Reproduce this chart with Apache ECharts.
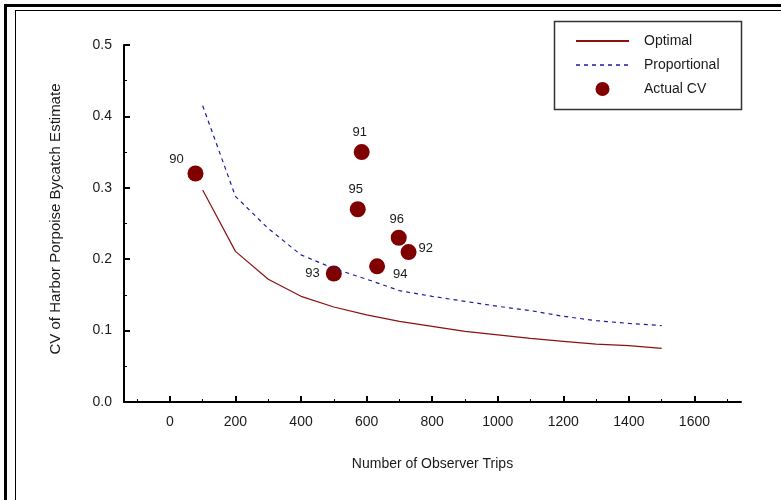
<!DOCTYPE html>
<html>
<head>
<meta charset="utf-8">
<script src="https://cdn.jsdelivr.net/npm/echarts@6/dist/echarts.min.js"></script>
<style>
html,body{margin:0;padding:0;background:#fff;}
#chart{width:781px;height:500px;}
</style>
</head>
<body>
<div id="chart"></div>
<script>
// ---- data ----
var optimalTrips = [100, 200, 300, 400, 500, 600, 700, 800, 900, 1000, 1100, 1200, 1300, 1400, 1500];
var optimalCV    = [0.297, 0.211, 0.172, 0.148, 0.133, 0.122, 0.113, 0.106, 0.099, 0.094, 0.089, 0.085, 0.081, 0.079, 0.075];
var propTrips    = [100, 200, 300, 400, 500, 600, 700, 800, 900, 1000, 1100, 1200, 1300, 1400, 1500];
var propCV       = [0.415, 0.288, 0.243, 0.206, 0.187, 0.172, 0.156, 0.148, 0.141, 0.134, 0.128, 0.120, 0.114, 0.110, 0.107];
var actualYears  = ['90', '91', '92', '93', '94', '95', '96'];
var actualTrips  = [78, 585, 728, 500, 632, 573, 698];
var actualCV     = [0.32, 0.35, 0.21, 0.18, 0.19, 0.27, 0.23];
var xMajorTicks  = [0, 200, 400, 600, 800, 1000, 1200, 1400, 1600];
var xMinorTicks  = [-100, 100, 300, 500, 700, 900, 1100, 1300, 1500, 1700];

// label placement per year (style only)
var labelPlace = {
  '90': {position: 'top', offset: [-19, 5]},
  '91': {position: 'top', offset: [-2, 0]},
  '95': {position: 'top', offset: [-2, 0]},
  '96': {position: 'top', offset: [-2, 1]},
  '92': {position: 'right', offset: [-3, -4]},
  '94': {position: 'right', offset: [3, 8]},
  '93': {position: 'left', offset: [-1, 0]}
};

function pairs(xs, ys) { return xs.map(function (x, i) { return [x, ys[i]]; }); }

var FONT = '"Liberation Sans", Arial, sans-serif';
var TXT = '#1a1a1a';

var chart = echarts.init(document.getElementById('chart'), null, {renderer: 'canvas'});
var option = {
  backgroundColor: '#fff',
  animation: false,
  textStyle: {fontFamily: FONT},
  grid: {left: 124, right: 40, top: 45, bottom: 98},
  xAxis: [{
    type: 'value', min: -140, max: 1742, position: 'bottom',
    axisLine: {onZero: false, lineStyle: {color: '#000', width: 2}},
    axisTick: {inside: true, length: 6, lineStyle: {color: '#000', width: 2}, customValues: xMajorTicks},
    axisLabel: {customValues: xMajorTicks, margin: 13, fontSize: 14, color: TXT, fontFamily: FONT,
      formatter: function (v) { return String(v); }},
    splitLine: {show: false},
    name: 'Number of Observer Trips', nameLocation: 'middle', nameGap: 55,
    nameTextStyle: {fontSize: 14, color: TXT, fontFamily: FONT}
  }, {
    type: 'value', min: -140, max: 1742, position: 'bottom', gridIndex: 0,
    axisLine: {show: false, onZero: false},
    axisTick: {inside: true, length: 3, lineStyle: {color: '#000', width: 1}, customValues: xMinorTicks},
    axisLabel: {show: false},
    splitLine: {show: false}
  }],
  yAxis: {
    type: 'value', min: 0, max: 0.5, interval: 0.1,
    axisLine: {show: true, onZero: false, lineStyle: {color: '#000', width: 2}},
    axisTick: {show: true, inside: true, length: 6, lineStyle: {color: '#000', width: 2}},
    minorTick: {show: true, splitNumber: 2, length: 3, lineStyle: {color: '#000', width: 1}},
    axisLabel: {margin: 12, fontSize: 14, color: TXT, fontFamily: FONT,
      formatter: function (v) { return v.toFixed(1); }},
    splitLine: {show: false}
  },
  legend: {
    orient: 'vertical', left: 575, top: 34, padding: 0,
    itemWidth: 53, itemHeight: 14, itemGap: 10,
    textStyle: {fontSize: 14, color: TXT, fontFamily: FONT, padding: [0, 0, 0, 10]},
    data: [
      {name: 'Optimal', lineStyle: {width: 2}, itemStyle: {opacity: 0, borderWidth: 0}},
      {name: 'Proportional', lineStyle: {width: 1.5}, itemStyle: {opacity: 0, borderWidth: 0}},
      {name: 'Actual CV', icon: 'circle'}
    ]
  },
  series: [{
    name: 'Optimal', type: 'line', symbol: 'none',
    data: pairs(optimalTrips, optimalCV),
    lineStyle: {color: '#8b1010', width: 1.2},
    itemStyle: {color: '#8b1010'}
  }, {
    name: 'Proportional', type: 'line', symbol: 'none',
    data: pairs(propTrips, propCV),
    lineStyle: {color: '#1c1ca0', width: 1.2, type: [4, 4]},
    itemStyle: {color: '#1c1ca0'}
  }, {
    name: 'Actual CV', type: 'scatter', symbol: 'circle', symbolSize: 16,
    itemStyle: {color: '#800000', opacity: 1},
    data: actualTrips.map(function (t, i) {
      var p = labelPlace[actualYears[i]];
      return {
        value: [t, actualCV[i]], name: actualYears[i],
        label: {show: true, formatter: actualYears[i], position: p.position, offset: p.offset,
          fontSize: 13, color: TXT, fontFamily: FONT}
      };
    })
  }],
  graphic: [
    {type: 'line', shape: {x1: 4, y1: 5.5, x2: 781, y2: 5.5}, style: {stroke: '#000', lineWidth: 3}, silent: true},
    {type: 'line', shape: {x1: 5.5, y1: 4, x2: 5.5, y2: 500}, style: {stroke: '#000', lineWidth: 3}, silent: true},
    {type: 'line', shape: {x1: 15, y1: 10.5, x2: 781, y2: 10.5}, style: {stroke: '#000', lineWidth: 1}, silent: true},
    {type: 'line', shape: {x1: 15.5, y1: 10, x2: 15.5, y2: 500}, style: {stroke: '#000', lineWidth: 1}, silent: true},
    {type: 'rect', shape: {x: 554.5, y: 21.5, width: 187, height: 88}, style: {fill: 'none', stroke: '#333', lineWidth: 1.5}, silent: true, z: 10},
    {type: 'text', x: 56, y: 219, rotation: Math.PI / 2,
      style: {text: 'CV of Harbor Porpoise Bycatch Estimate', fontSize: 15, fontFamily: FONT, fill: TXT,
        align: 'center', verticalAlign: 'middle'}, silent: true}
  ]
};
chart.setOption(option);
</script>
</body>
</html>
